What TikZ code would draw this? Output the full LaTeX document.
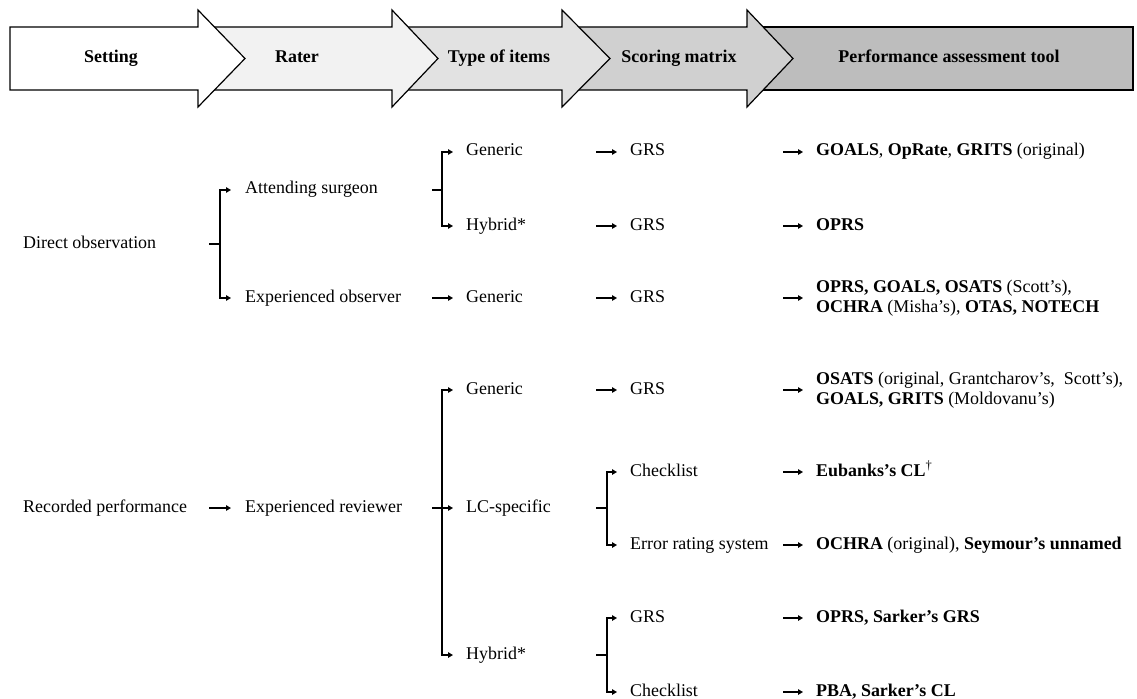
\documentclass[tikz,border=0pt]{standalone}
\usepackage{fontspec}
\setmainfont{Liberation Serif}
\usetikzlibrary{arrows.meta}
\definecolor{fillA}{HTML}{FFFFFF}
\definecolor{fillB}{HTML}{F2F2F2}
\definecolor{fillC}{HTML}{E2E2E2}
\definecolor{fillD}{HTML}{D0D0D0}
\definecolor{fillE}{HTML}{BDBDBD}
\begin{document}
\begin{tikzpicture}[x=1bp,y=-1bp,
  lbl/.style={anchor=west, inner sep=0pt, font=\fontsize{18}{20}\selectfont, text height=12bp, text depth=4bp},
  multi/.style={anchor=west, inner sep=0pt, font=\fontsize{18}{19.5}\selectfont, align=left},
  hdr/.style={font=\fontsize{18}{20}\selectfont\bfseries, inner sep=0pt, text height=12bp, text depth=4bp},
  con/.style={line width=1.5bp},
  arr/.style={con, -{Triangle[length=5bp,width=5.5bp]}, shorten >=13bp},
  chev/.style={draw=black, line width=1.2bp, line join=miter}
]
\useasboundingbox (0,0) rectangle (1137,699);
% header chevrons (right to left so left ones overlap)
\path[chev, fill=fillE] (747,27) rectangle (1133,90);
\path[chev, fill=fillD] (562,27) -- (747,27) -- (747,10) -- (793,58.5) -- (747,107) -- (747,90) -- (562,90) -- cycle;
\path[chev, fill=fillC] (392,27) -- (562,27) -- (562,10) -- (610,58.5) -- (562,107) -- (562,90) -- (392,90) -- cycle;
\path[chev, fill=fillB] (198,27) -- (392,27) -- (392,10) -- (438,58.5) -- (392,107) -- (392,90) -- (198,90) -- cycle;
\path[chev, fill=fillA] (10,27) -- (198,27) -- (198,10) -- (245,58.5) -- (198,107) -- (198,90) -- (10,90) -- cycle;
\node[hdr] (hset) at (111,59) {Setting};
\node[hdr] (hrat) at (297,59) {Rater};
\node[hdr] (htyp) at (499,59) {Type of items};
\node[hdr] (hscr) at (679,59) {Scoring matrix};
\node[hdr] (hpat) at (949,59) {Performance assessment tool};
% column coordinates
\coordinate (c1s) at (209,0);
\coordinate (c1v) at (220,0);
\coordinate (c2s) at (432,0);
\coordinate (c2v) at (442,0);
\coordinate (c3s) at (596,0);
\coordinate (c3v) at (607,0);
\coordinate (c4s) at (783,0);
% nodes
\node[lbl] (dobs) at (23,244) {Direct observation};
\node[lbl] (rec) at (23,508) {Recorded performance};
\node[lbl] (att) at (245,190) {Attending surgeon};
\node[lbl] (eobs) at (245,298) {Experienced observer};
\node[lbl] (erev) at (245,508) {Experienced reviewer};
\node[lbl] (gen1) at (466,152) {Generic};
\node[lbl] (hyb1) at (466,226) {Hybrid*};
\node[lbl] (gen2) at (466,298) {Generic};
\node[lbl] (gen3) at (466,390) {Generic};
\node[lbl] (lcs) at (466,508) {LC-specific};
\node[lbl] (hyb2) at (466,655) {Hybrid*};
\node[lbl] (grs1) at (630,152) {GRS};
\node[lbl] (grs2) at (630,226) {GRS};
\node[lbl] (grs3) at (630,298) {GRS};
\node[lbl] (grs4) at (630,390) {GRS};
\node[lbl] (chk1) at (630,472) {Checklist};
\node[lbl] (err) at (630,545) {Error rating system};
\node[lbl] (grs5) at (630,618) {GRS};
\node[lbl] (chk2) at (630,692) {Checklist};
\node[lbl] (t1) at (816,152) {\textbf{GOALS}, \textbf{OpRate}, \textbf{GRITS} (original)};
\node[lbl] (t2) at (816,226) {\textbf{OPRS}};
\node[multi] (t3) at (816,298) {\textbf{OPRS, GOALS, OSATS} (Scott’s),\\\textbf{OCHRA} (Misha’s), \textbf{OTAS, NOTECH}};
\node[multi] (t4) at (816,390) {\textbf{OSATS} (original, Grantcharov’s,\ \ Scott’s),\\\textbf{GOALS, GRITS} (Moldovanu’s)};
\node[lbl] (t5) at (816,472) {\textbf{Eubanks’s CL}\textsuperscript{†}};
\node[lbl] (t6) at (816,545) {\textbf{OCHRA} (original), \textbf{Seymour’s unnamed}};
\node[lbl] (t7) at (816,618) {\textbf{OPRS, Sarker’s GRS}};
\node[lbl] (t8) at (816,692) {\textbf{PBA, Sarker’s CL}};
% setting -> rater
\draw[con] (dobs -| c1s) -- (dobs -| c1v);
\draw[arr, shorten >=14bp] (dobs -| c1v) |- (att.west);
\draw[arr, shorten >=14bp] (dobs -| c1v) |- (eobs.west);
\draw[arr, shorten >=14bp] (rec -| c1s) -- (erev.west);
% rater -> type
\draw[con] (att -| c2s) -- (att -| c2v);
\draw[arr] (att -| c2v) |- (gen1.west);
\draw[arr] (att -| c2v) |- (hyb1.west);
\draw[arr] (eobs -| c2s) -- (gen2.west);
\draw[arr] (erev -| c2s) -- (lcs.west);
\draw[arr] (erev -| c2v) |- (gen3.west);
\draw[arr] (erev -| c2v) |- (hyb2.west);
% type -> scoring
\draw[arr] (gen1 -| c3s) -- (grs1.west);
\draw[arr] (hyb1 -| c3s) -- (grs2.west);
\draw[arr] (gen2 -| c3s) -- (grs3.west);
\draw[arr] (gen3 -| c3s) -- (grs4.west);
\draw[con] (lcs -| c3s) -- (lcs -| c3v);
\draw[arr] (lcs -| c3v) |- (chk1.west);
\draw[arr] (lcs -| c3v) |- (err.west);
\draw[con] (hyb2 -| c3s) -- (hyb2 -| c3v);
\draw[arr] (hyb2 -| c3v) |- (grs5.west);
\draw[arr] (hyb2 -| c3v) |- (chk2.west);
% scoring -> tool
\draw[arr] (grs1 -| c4s) -- (t1.west);
\draw[arr] (grs2 -| c4s) -- (t2.west);
\draw[arr] (grs3 -| c4s) -- (t3.west);
\draw[arr] (grs4 -| c4s) -- (t4.west);
\draw[arr] (chk1 -| c4s) -- (t5.west);
\draw[arr] (err -| c4s) -- (t6.west);
\draw[arr] (grs5 -| c4s) -- (t7.west);
\draw[arr] (chk2 -| c4s) -- (t8.west);
\end{tikzpicture}
\end{document}
